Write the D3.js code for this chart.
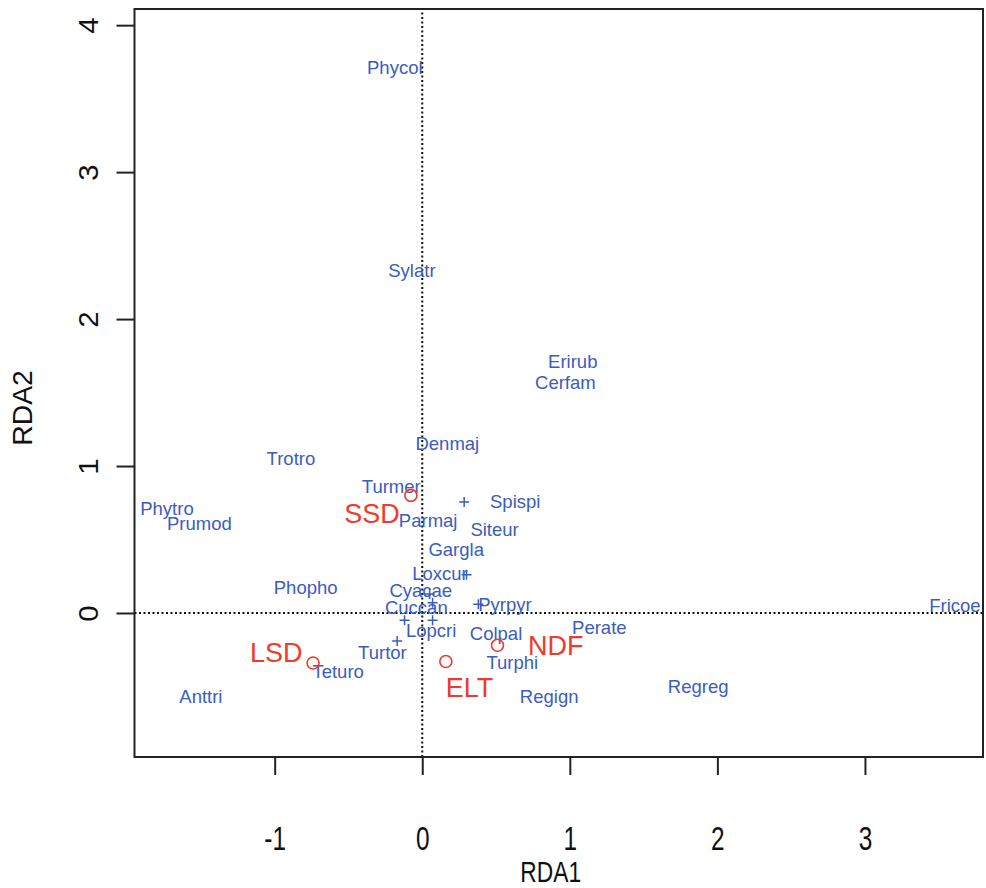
<!DOCTYPE html>
<html>
<head>
<meta charset="utf-8">
<script src="https://cdn.jsdelivr.net/npm/d3@7"></script>
<style>
  html, body { margin: 0; padding: 0; background: #fff; }
  svg { display: block; font-family: "Liberation Sans", Arial, Helvetica, sans-serif; }
</style>
</head>
<body>
<svg id="chart" width="986" height="888"></svg>
<script>
// ---- Data ----
const speciesNames = ["Phycol","Sylatr","Erirub","Cerfam","Denmaj","Trotro","Turmer","Spispi","Phytro","Prumod",
  "Parmaj","Siteur","Gargla","Loxcur","Phopho","Cyacae","Cuccan","Pyrpyr","Fricoe","Lopcri",
  "Perate","Colpal","Turtor","Turphi","Teturo","Regreg","Regign","Anttri"];
const speciesX = [-0.186,-0.07,1.02,0.97,0.17,-0.89,-0.21,0.63,-1.73,-1.51,
  0.04,0.49,0.23,0.12,-0.79,-0.01,-0.04,0.56,3.61,0.06,
  1.20,0.50,-0.27,0.61,-0.57,1.87,0.86,-1.50];
const speciesY = [3.71,2.33,1.71,1.57,1.15,1.05,0.86,0.76,0.71,0.61,
  0.63,0.57,0.43,0.27,0.17,0.15,0.04,0.06,0.05,-0.12,
  -0.10,-0.14,-0.27,-0.34,-0.40,-0.50,-0.57,-0.57];

// unlabelled species (drawn as "+")
const plusX = [0.284,0.30,0.05,0.07,-0.12,0.07,0.38,-0.17];
const plusY = [0.755,0.26,0.13,0.07,-0.05,-0.05,0.06,-0.19];

// trait / environment points
const envNames = ["SSD","LSD","ELT","NDF"];
const envX = [-0.077,-0.74,0.16,0.51];
const envY = [0.80,-0.34,-0.33,-0.22];
const envLabelX = [-0.34,-0.99,0.32,0.905];
const envLabelY = [0.68,-0.27,-0.51,-0.22];

const xTicks = [-1,0,1,2,3];
const yTicks = [0,1,2,3,4];
const xTitle = "RDA1";
const yTitle = "RDA2";

// ---- Layout ----
const W = 986, H = 888;
const margin = {left: 134.5, right: 3, top: 9, bottom: 131};
const svg = d3.select("#chart");

const x = d3.scaleLinear().domain([-1.95, 3.80]).range([margin.left, W - margin.right]);
const y = d3.scaleLinear().domain([-0.98, 4.11]).range([H - margin.bottom, margin.top]);

const blue = "#3b5cc0";
const red = "#ef3a2c";

// reference lines (dotted)
svg.append("line")
  .attr("x1", x(0)).attr("x2", x(0))
  .attr("y1", y.range()[0]).attr("y2", y.range()[1])
  .attr("stroke", "#111").attr("stroke-width", 2).attr("stroke-dasharray", "2,2.5");
svg.append("line")
  .attr("x1", x.range()[0]).attr("x2", x.range()[1])
  .attr("y1", y(0)).attr("y2", y(0))
  .attr("stroke", "#111").attr("stroke-width", 2).attr("stroke-dasharray", "2,2.5");

// axes
const xAxis = svg.append("g")
  .attr("transform", `translate(0,${H - margin.bottom})`)
  .call(d3.axisBottom(x).tickValues(xTicks).tickSize(18).tickPadding(0).tickFormat(d3.format("d")));
const yAxis = svg.append("g")
  .attr("transform", `translate(${margin.left},0)`)
  .call(d3.axisLeft(y).tickValues(yTicks).tickSize(18).tickPadding(0).tickFormat(d3.format("d")));
[xAxis, yAxis].forEach(g => {
  g.select(".domain").remove();
  g.selectAll(".tick line").attr("stroke", "#222").attr("stroke-width", 2);
  g.selectAll(".tick text").remove();
});
// tick labels
xAxis.selectAll(".tick").append("text")
  .attr("transform", "translate(0,93) scale(0.74,1)")
  .attr("text-anchor", "middle").attr("fill", "#111")
  .attr("font-size", 33).text(d => d);
yAxis.selectAll(".tick").append("text")
  .attr("transform", "translate(-37,0) rotate(-90) scale(1.05,1)")
  .attr("text-anchor", "middle").attr("fill", "#111")
  .attr("font-size", 28).text(d => d);

// frame
svg.append("rect")
  .attr("x", x.range()[0]).attr("y", y.range()[1])
  .attr("width", x.range()[1] - x.range()[0]).attr("height", y.range()[0] - y.range()[1])
  .attr("fill", "none").attr("stroke", "#222").attr("stroke-width", 2);

// axis titles
svg.append("text")
  .attr("transform", `translate(${(x.range()[0] + x.range()[1]) / 2 - 8},882) scale(0.76,1)`)
  .attr("text-anchor", "middle").attr("fill", "#111").attr("font-size", 30).text(xTitle);
svg.append("text")
  .attr("transform", `translate(32,${(y.range()[0] + y.range()[1]) / 2 + 25}) rotate(-90) scale(1.05,1)`)
  .attr("text-anchor", "middle").attr("fill", "#111").attr("font-size", 27).text(yTitle);

// plus markers
const plusData = plusX.map((v, i) => ({x: v, y: plusY[i]}));
svg.append("g").selectAll("path").data(plusData).join("path")
  .attr("d", d => `M${x(d.x) - 5},${y(d.y)}h10M${x(d.x)},${y(d.y) - 5}v10`)
  .attr("stroke", blue).attr("stroke-width", 1.5);

// species labels
const spData = speciesNames.map((n, i) => ({n, x: speciesX[i], y: speciesY[i]}));
svg.append("g").selectAll("text").data(spData).join("text")
  .attr("x", d => x(d.x)).attr("y", d => y(d.y)).attr("dy", "0.35em")
  .attr("text-anchor", "middle").attr("fill", blue).attr("font-size", 18.5)
  .text(d => d.n);

// env points
const envData = envNames.map((n, i) => ({n, x: envX[i], y: envY[i], lx: envLabelX[i], ly: envLabelY[i]}));
svg.append("g").selectAll("circle").data(envData).join("circle")
  .attr("cx", d => x(d.x)).attr("cy", d => y(d.y)).attr("r", 6)
  .attr("fill", "none").attr("stroke", red).attr("stroke-width", 1.6);
svg.append("g").selectAll("text").data(envData).join("text")
  .attr("x", d => x(d.lx)).attr("y", d => y(d.ly)).attr("dy", "0.35em")
  .attr("text-anchor", "middle").attr("fill", red).attr("font-size", 27)
  .text(d => d.n);
</script>
</body>
</html>
